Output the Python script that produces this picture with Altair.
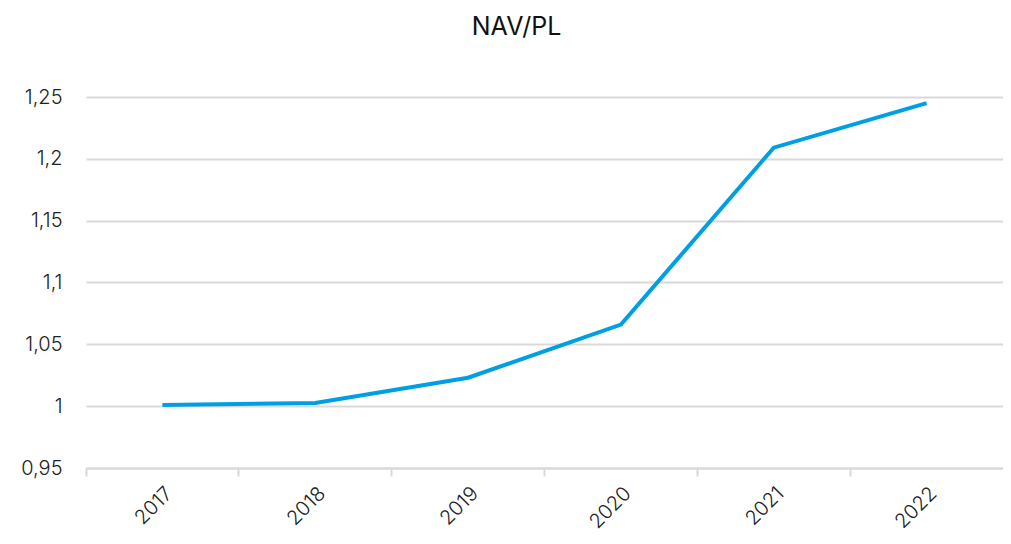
import altair as alt
import pandas as pd

years = ["2017", "2018", "2019", "2020", "2021", "2022"]
nav_pl = [1.001, 1.0025, 1.023, 1.066, 1.209, 1.245]
y_ticks = [0.95, 1.0, 1.05, 1.1, 1.15, 1.2, 1.25]

df = pd.DataFrame({"year": years, "value": nav_pl})

FONT = "Inter"

chart = alt.Chart(df).mark_line(color="#009FE3", strokeWidth=4).encode(
    x=alt.X("year:N", sort=years, title=None,
            scale=alt.Scale(type="band", paddingInner=0, paddingOuter=0),
            axis=alt.Axis(bandPosition=0, labelAngle=-45, labelFontSize=20,
                          labelFont=FONT, labelFontWeight=300, labelColor="#222222",
                          labelPadding=7, tickSize=8, tickColor="#d9d9d9",
                          tickWidth=2, domainColor="#d9d9d9", domainWidth=2,
                          grid=False)),
    y=alt.Y("value:Q", title=None,
            scale=alt.Scale(domain=[0.95, 1.25], nice=False, zero=False),
            axis=alt.Axis(values=y_ticks, labelExpr="replace(format(datum.value, ''), '.', ',')",
                          labelFontSize=20, labelFont=FONT, labelFontWeight=300,
                          labelColor="#222222", labelPadding=24, ticks=False,
                          domain=False, gridColor="#d9d9d9", gridWidth=2)),
).properties(
    width=917, height=371,
    title=alt.TitleParams("NAV/PL", font=FONT, fontSize=25, fontWeight=400,
                          color="#111111", anchor="middle", dx=-28, offset=47),
    padding={"left": 78, "top": 89, "right": 0, "bottom": 64},
    autosize=alt.AutoSizeParams(type="none"),
).configure_view(stroke=None)

chart.save("out.html", embed_options={"renderer": "svg", "actions": False})
